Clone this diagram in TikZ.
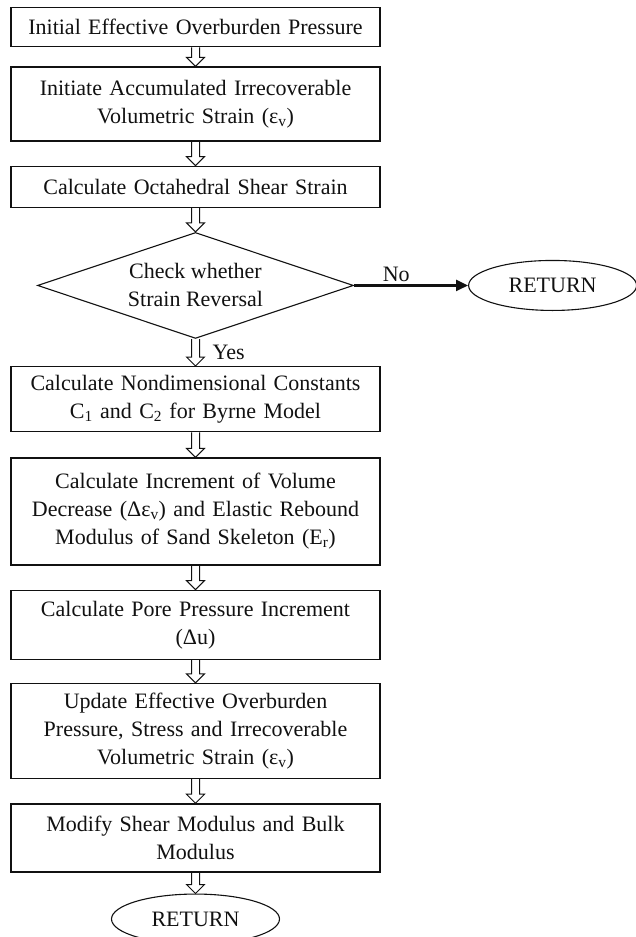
\documentclass[tikz,border=0pt]{standalone}
\usepackage{fontspec}
\setmainfont{Liberation Serif}
\usepackage{tikz}
\usetikzlibrary{arrows.meta,positioning,calc,shapes.geometric}
\definecolor{fcInk}{HTML}{111111}
\tikzset{
  flow font/.style={font=\fontsize{22}{28}\selectfont,text=fcInk},
  stepbox/.style={draw=fcInk,line width=1.3pt,rectangle,fill=white,flow font,
    text width=357pt,align=center,minimum height=40pt,inner sep=6pt},
  checkbox/.style={draw=fcInk,line width=1.1pt,diamond,aspect=3,flow font,align=center,
    minimum width=316pt,minimum height=106pt,inner sep=0pt},
  endbox/.style={draw=fcInk,line width=1.1pt,ellipse,flow font,
    minimum width=168pt,minimum height=50pt,inner sep=0pt},
  hollow arrow/.style={draw=fcInk,line width=1pt,line join=miter},
  no arrow/.style={draw=fcInk,line width=2.4pt,-{Triangle[length=12pt,width=11pt]}}
}
% open block arrow between two nodes
\newcommand{\hollowarrow}[2]{%
  \draw[hollow arrow] ($(#1.south)+(-4pt,0)$) -- ($(#2.north)+(-4pt,9pt)$)
    -- ($(#2.north)+(-9pt,9pt)$) -- (#2.north) -- ($(#2.north)+(9pt,9pt)$)
    -- ($(#2.north)+(4pt,9pt)$) -- ($(#1.south)+(4pt,0)$);}

\begin{document}
\begin{tikzpicture}[node distance=24pt]
\useasboundingbox (0,0) rectangle (635pt,-937pt);
\node[stepbox,minimum height=39pt,anchor=north] (init) at (195.5pt,-7pt) {Initial Effective Overburden Pressure};
\node[stepbox,minimum height=74pt,below=19pt of init] (accum) {Initiate Accumulated Irrecoverable\\Volumetric Strain (ε\textsubscript{v})};
\node[stepbox,minimum height=41pt,below=of accum] (octa) {Calculate Octahedral Shear Strain};
\node[checkbox,below=24pt of octa] (check) {Check whether\\Strain Reversal};
\node[endbox,right=114pt of check] (ret1) {RETURN};
\node[stepbox,minimum height=65pt,below=27pt of check] (byrne) {Calculate Nondimensional Constants\\C\textsubscript{1} and C\textsubscript{2} for Byrne Model};
\node[stepbox,minimum height=107pt,below=25pt of byrne] (incr) {Calculate Increment of Volume\\Decrease (Δε\textsubscript{v}) and Elastic Rebound\\Modulus of Sand Skeleton (E\textsubscript{r})};
\node[stepbox,minimum height=69pt,below=of incr] (pore) {Calculate Pore Pressure Increment\\(Δu)};
\node[stepbox,minimum height=95pt,below=23pt of pore] (upd) {Update Effective Overburden\\Pressure, Stress and Irrecoverable\\Volumetric Strain (ε\textsubscript{v})};
\node[stepbox,minimum height=68pt,below=24pt of upd] (modi) {Modify Shear Modulus and Bulk\\Modulus};
\node[endbox,below=21pt of modi] (ret2) {RETURN};

\hollowarrow{init}{accum}
\hollowarrow{accum}{octa}
\hollowarrow{octa}{check}
\hollowarrow{check}{byrne}
\hollowarrow{byrne}{incr}
\hollowarrow{incr}{pore}
\hollowarrow{pore}{upd}
\hollowarrow{upd}{modi}
\hollowarrow{modi}{ret2}
\draw[no arrow] (check.east) -- node[flow font,above,pos=0.37,inner sep=3pt] (no) {No} (ret1.west);
\node[flow font,anchor=west,inner sep=0pt] (yes) at ($(check.south)!0.5!(byrne.north)+(17pt,0)$) {Yes};
\end{tikzpicture}
\end{document}
